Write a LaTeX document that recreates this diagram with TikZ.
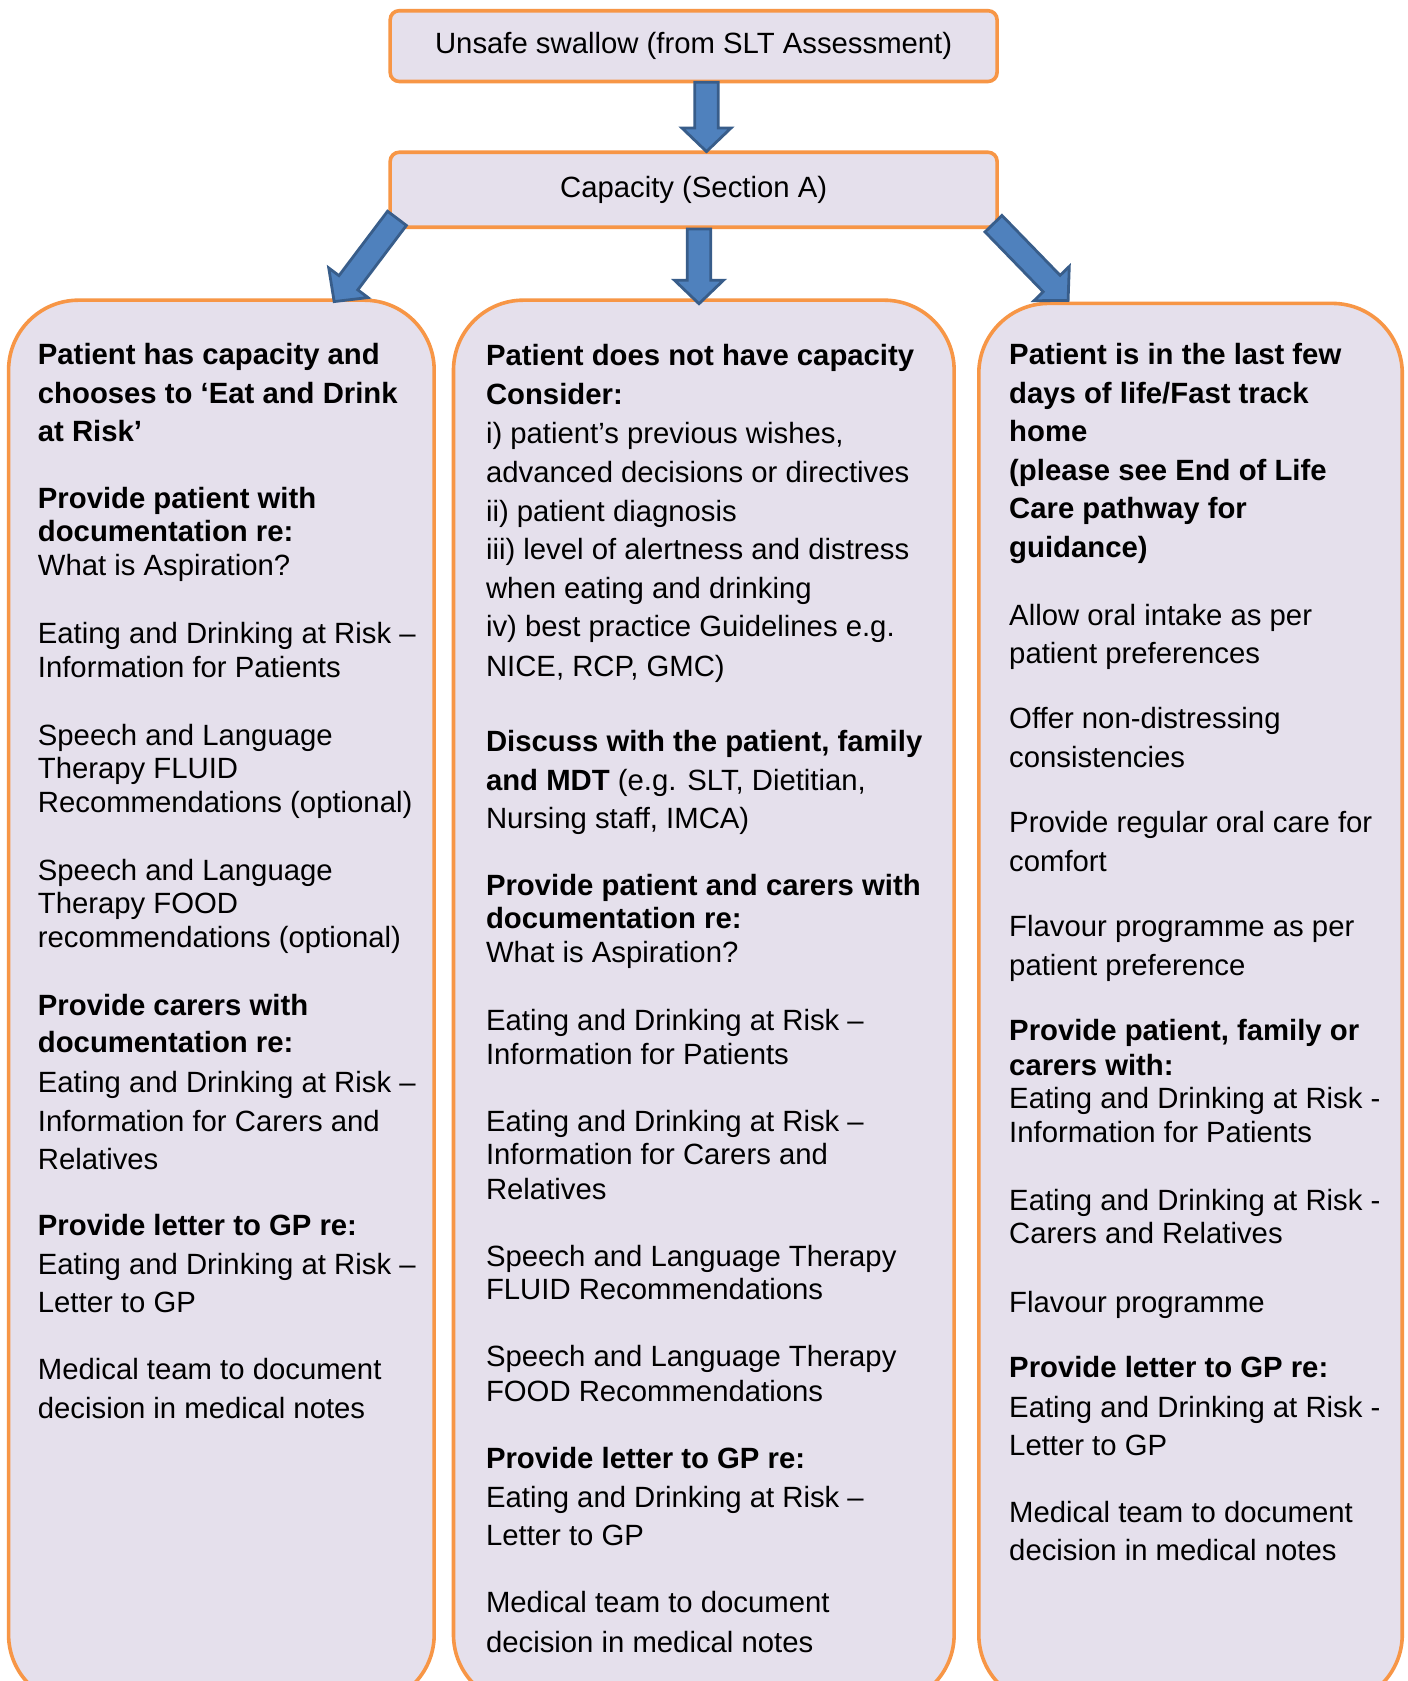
\documentclass[tikz,border=0pt]{standalone}
\usepackage{fontspec}
\setmainfont{Liberation Sans}
\usetikzlibrary{calc,fit}
\definecolor{boxorange}{HTML}{F79646}
\definecolor{boxlilac}{HTML}{E5E0EC}
\definecolor{arrowblue}{HTML}{4F81BD}
\definecolor{arrowedge}{HTML}{385D8A}
% block arrow from #1 to #2 (shaft 11.8pt, head 24.7pt wide, 11.8pt long)
\newcommand{\blockarrow}[2]{%
  \filldraw[arrowblock] let \p1=(#1), \p2=(#2),
    \n1={atan2(\y2-\y1,\x2-\x1)}, \n2={veclen(\x2-\x1,\y2-\y1)} in
    [shift={(\p1)}, rotate=\n1]
    (0pt,-5.9pt) -- (\n2-11.8pt,-5.9pt) -- (\n2-11.8pt,-12.3pt) -- (\n2,0pt)
    -- (\n2-11.8pt,12.3pt) -- (\n2-11.8pt,5.9pt) -- (0pt,5.9pt) -- cycle;}
\tikzset{
  smallbox/.style={draw=boxorange, fill=boxlilac, line width=1.8pt, rounded corners=4.5pt, inner sep=0pt,
    minimum width=303.5pt, font=\fontsize{14.65}{17}\selectfont},
  bigbox/.style={draw=boxorange, fill=boxlilac, line width=1.8pt, rounded corners=35pt, inner sep=0pt},
  txt/.style={anchor=base west, inner sep=0pt, yshift=-1.6pt, font=\fontsize{14.65}{17}\selectfont},
  arrowblock/.style={fill=arrowblue, draw=arrowedge, line width=1.4pt, line join=miter}
}

\begin{document}
\begin{tikzpicture}[x=0.53615pt, y=-0.53615pt]
  \clip[use as bounding box] (0,0) rectangle (1313,1568);
  \fill[white] (0,0) rectangle (1313,1568);

  \node[smallbox, minimum height=35.4pt] (top) at (647,43) {Unsafe swallow (from SLT Assessment)};
  \node[smallbox, minimum height=37.5pt] (cap) at (647,177) {Capacity (Section A)};
  \node[bigbox, fit={(8,280) (405,1590)}] (left) {};
  \node[bigbox, fit={(423,280) (890,1590)}] (mid) {};
  \node[bigbox, fit={(913,283) (1308,1590)}] (right) {};

  % arrows
  \blockarrow{$(top.south)+(12,-1)$}{$(cap.north)+(12,1)$}
  \blockarrow{$(cap.south)+(5,0)$}{$(mid.north)+(-4.5,5)$}
  \blockarrow{$(cap.south west)+(8,-10)$}{$(left.north east)+(-95,3)$}
  \blockarrow{$(cap.south east)+(-5,-5)$}{$(right.north west)+(85,-1)$}

  % left column
  \foreach \y/\t [count=\i] in {
      337/{\bfseries Patient has capacity and},
      373/{\bfseries chooses to ‘Eat and Drink},
      409/{\bfseries at Risk’},
      471/{\bfseries Provide patient with},
      502/{\bfseries documentation re:},
      534/{What is Aspiration?},
      597/{Eating and Drinking at Risk –},
      629/{Information for Patients},
      692/{Speech and Language},
      723/{Therapy FLUID},
      755/{Recommendations (optional)},
      818/{Speech and Language},
      849/{Therapy FOOD},
      881/{recommendations (optional)},
      944/{\bfseries Provide carers with},
      979/{\bfseries documentation re:},
      1016/{Eating and Drinking at Risk –},
      1052/{Information for Carers and},
      1088/{Relatives},
      1149/{\bfseries Provide letter to GP re:},
      1186/{Eating and Drinking at Risk –},
      1221/{Letter to GP},
      1284/{Medical team to document},
      1320/{decision in medical notes}} {
    \node[txt] (L\i) at (35,\y) {\t};
  }

  % middle column
  \foreach \y/\t [count=\i] in {
      338/{\bfseries Patient does not have capacity},
      374/{\bfseries Consider:},
      411/{i) patient’s previous wishes,},
      447/{advanced decisions or directives},
      483/{ii) patient diagnosis},
      519/{iii) level of alertness and distress},
      555/{when eating and drinking},
      591/{iv) best practice Guidelines e.g.},
      628/{NICE, RCP, GMC)},
      698/{\bfseries Discuss with the patient, family},
      734/{{\bfseries and MDT} (e.g. SLT, Dietitian,},
      770/{Nursing staff, IMCA)},
      832/{\bfseries Provide patient and carers with},
      863/{\bfseries documentation re:},
      895/{What is Aspiration?},
      958/{Eating and Drinking at Risk –},
      990/{Information for Patients},
      1052/{Eating and Drinking at Risk –},
      1083/{Information for Carers and},
      1116/{Relatives},
      1178/{Speech and Language Therapy},
      1209/{FLUID Recommendations},
      1272/{Speech and Language Therapy},
      1304/{FOOD Recommendations},
      1367/{\bfseries Provide letter to GP re:},
      1403/{Eating and Drinking at Risk –},
      1439/{Letter to GP},
      1501/{Medical team to document},
      1538/{decision in medical notes}} {
    \node[txt] (M\i) at (453,\y) {\t};
  }

  % right column
  \foreach \y/\t [count=\i] in {
      337/{\bfseries Patient is in the last few},
      373/{\bfseries days of life/Fast track},
      409/{\bfseries home},
      445/{\bfseries (please see End of Life},
      481/{\bfseries Care pathway for},
      517/{\bfseries guidance)},
      580/{Allow oral intake as per},
      616/{patient preferences},
      677/{Offer non-distressing},
      713/{consistencies},
      774/{Provide regular oral care for},
      810/{comfort},
      871/{Flavour programme as per},
      907/{patient preference},
      968/{\bfseries Provide patient, family or},
      1000/{\bfseries carers with:},
      1031/{Eating and Drinking at Risk -},
      1063/{Information for Patients},
      1126/{Eating and Drinking at Risk -},
      1157/{Carers and Relatives},
      1221/{Flavour programme},
      1282/{\bfseries Provide letter to GP re:},
      1319/{Eating and Drinking at Risk -},
      1355/{Letter to GP},
      1417/{Medical team to document},
      1453/{decision in medical notes}} {
    \node[txt] (R\i) at (941,\y) {\t};
  }
\end{tikzpicture}
\end{document}
